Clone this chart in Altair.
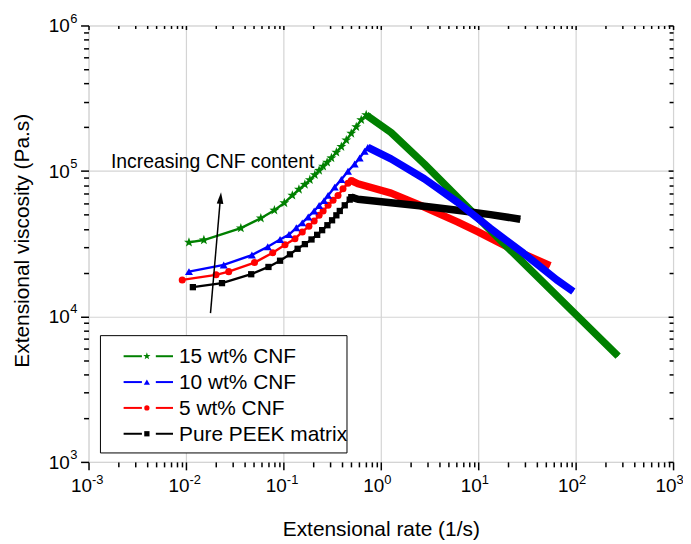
import altair as alt
import pandas as pd

FONT = "Liberation Sans"

series = ["15 wt% CNF", "10 wt% CNF", "5 wt% CNF", "Pure PEEK matrix"]
colors = ["#008000", "#0000ff", "#ff0000", "#000000"]

# ---- 15 wt% CNF ----
g15_rate = [0.01074, 0.01528, 0.0366, 0.0587, 0.0809, 0.1023, 0.1236, 0.1445, 0.1663, 0.1871, 0.2104,
            0.2328, 0.2559, 0.2812, 0.3112, 0.3499, 0.3936, 0.4426, 0.4977, 0.5598, 0.6295, 0.708]
g15_visc = [32280, 33500, 40460, 47320, 53700, 60260, 67920, 74650, 80720, 86900, 93970,
            100700, 107600, 114600, 122700, 134300, 146900, 162900, 181100, 200900, 224400, 242700]
g15_tail_rate = [0.708, 1.274, 2.793, 6.109, 19.77, 43.25, 94.84, 272.9]
g15_tail_visc = [242700, 183700, 111900, 66070, 30130, 17990, 10700, 5333]

# ---- 10 wt% CNF ----
g10_rate = [0.01074, 0.02443, 0.04753, 0.06918, 0.09247, 0.1143, 0.1358, 0.1563, 0.1799, 0.207,
            0.2328, 0.2618, 0.2877, 0.3365, 0.3936, 0.4603, 0.5395, 0.6067, 0.6823, 0.7362]
g10_visc = [20320, 22590, 26420, 30130, 33810, 36560, 40640, 43950, 48310, 53090,
            57810, 62520, 67920, 77450, 87300, 99540, 111700, 122700, 136500, 145200]
g10_tail_rate = [0.7362, 1.274, 2.793, 6.109, 13.37, 29.24, 63.97, 94.62]
g10_tail_visc = [145200, 121100, 88310, 61090, 40270, 27160, 17820, 14830]

# ---- 5 wt% CNF ----
g5_rate = [0.00916, 0.02037, 0.02748, 0.05058, 0.0778, 0.104, 0.1315, 0.1563, 0.1828, 0.207,
           0.2328, 0.2559, 0.2877, 0.3236, 0.3639, 0.4093, 0.4603, 0.4977]
g5_visc = [17820, 19320, 20320, 23440, 27420, 31120, 34200, 38110, 41690, 45290,
           49550, 53090, 58080, 62810, 67920, 75510, 82410, 85900]
g5_tail_rate = [0.4977, 0.5821, 1.274, 2.793, 6.109, 10.0, 19.77, 54.7]
g5_tail_visc = [85900, 81660, 70470, 56490, 44670, 38110, 30130, 22340]

# ---- Pure PEEK ----
g0_rate = [0.01178, 0.02344, 0.04677, 0.07031, 0.09247, 0.1169, 0.14, 0.1663, 0.1945, 0.2223,
           0.25, 0.2831, 0.3162, 0.3499, 0.3793, 0.4266, 0.4797, 0.4977]
g0_visc = [15890, 16940, 19500, 21880, 24150, 26730, 29170, 31410, 33810, 36390,
           39170, 42360, 45810, 49550, 53090, 58080, 63530, 66070]
g0_tail_rate = [0.4977, 0.5821, 1.274, 2.793, 6.109, 13.37, 27.04]
g0_tail_visc = [66070, 63830, 60530, 57150, 53700, 50120, 46560]

x_major = [1e-3, 1e-2, 1e-1, 1, 10, 100, 1000]
x_exp = ["-3", "-2", "-1", "0", "1", "2", "3"]
y_major = [1e3, 1e4, 1e5, 1e6]
y_exp = ["3", "4", "5", "6"]
x_minor = [k * 10.0 ** d for d in range(-3, 3) for k in range(2, 10)]
y_minor = [k * 10.0 ** d for d in range(3, 6) for k in range(2, 10)]

STAR = ("M0,-1L0.235,-0.324L0.951,-0.309L0.38,0.124L0.588,0.809L0,0.4L-0.588,0.809"
        "L-0.38,0.124L-0.951,-0.309L-0.235,-0.324Z")
shapes = [STAR, "triangle-up", "circle", "square"]
msize = [110, 65, 50, 40]
lsize = [60, 38, 28, 28]

rise = [(g15_rate, g15_visc), (g10_rate, g10_visc), (g5_rate, g5_visc), (g0_rate, g0_visc)]
tail = [(g15_tail_rate, g15_tail_visc), (g10_tail_rate, g10_tail_visc),
        (g5_tail_rate, g5_tail_visc), (g0_tail_rate, g0_tail_visc)]

W, H = 588, 439
xs = alt.Scale(type="log", domain=[1e-3, 1e3], nice=False)
ys = alt.Scale(type="log", domain=[1e3, 1e6], nice=False)


def X(field="rate", axis=None):
    return alt.X(f"{field}:Q", scale=xs, axis=axis)


def Y(field="visc", axis=None):
    return alt.Y(f"{field}:Q", scale=ys, axis=axis)


layers = []

# axes
corner = pd.DataFrame({"rate": [1e-3, 1e3], "visc": [1e3, 1e6]})
common = dict(labels=False, domain=False, tickColor="black", tickWidth=1.5)


def axis_layer(ax_x, ax_y):
    return alt.Chart(corner).mark_point(opacity=0).encode(x=X(axis=ax_x), y=Y(axis=ax_y))


layers.append(axis_layer(
    alt.Axis(orient="bottom", values=x_major, tickSize=8, grid=True, gridColor="#d4d4d4",
             gridWidth=1.2, title="Extensional rate (1/s)", titleFont=FONT, titleFontSize=21,
             titleFontWeight="normal", titleColor="black", titleY=74,
             titleBaseline="alphabetic", **common),
    alt.Axis(orient="left", values=y_major, tickSize=8, grid=True, gridColor="#d4d4d4",
             gridWidth=1.2, title="Extensional viscosity (Pa.s)", titleFont=FONT,
             titleFontSize=21, titleFontWeight="normal", titleColor="black", titleAngle=270,
             titleX=-60, titleY=216, titleBaseline="alphabetic", titleAlign="center", **common)))
layers.append(axis_layer(
    alt.Axis(orient="bottom", values=x_minor, tickSize=5, grid=False, title=None, **common),
    alt.Axis(orient="left", values=y_minor, tickSize=5, grid=False, title=None, **common)))
layers.append(axis_layer(
    alt.Axis(orient="top", values=x_major, tickSize=4, offset=-4, grid=False, title=None, **common),
    alt.Axis(orient="right", values=y_major, tickSize=5, offset=-5, grid=False, title=None, **common)))
layers.append(axis_layer(
    alt.Axis(orient="top", values=x_minor, tickSize=3, offset=-3, grid=False, title=None, **common),
    alt.Axis(orient="right", values=y_minor, tickSize=4, offset=-4, grid=False, title=None, **common)))

# tick labels
xl = pd.DataFrame({"v": x_major, "e": x_exp})
yl = pd.DataFrame({"v": y_major, "e": y_exp})
layers.append(alt.Chart(xl).mark_text(align="right", baseline="alphabetic", fontSize=19, font=FONT,
                                      dx=3.5, color="black")
              .encode(x=X("v"), y=alt.value(H + 30), text=alt.value("10")))
layers.append(alt.Chart(xl).mark_text(align="left", baseline="alphabetic", fontSize=13, font=FONT,
                                      dx=3.5, color="black")
              .encode(x=X("v"), y=alt.value(H + 22), text="e:N"))
layers.append(alt.Chart(yl).mark_text(align="right", baseline="alphabetic", fontSize=19, font=FONT,
                                      dy=7, color="black")
              .encode(x=alt.value(-19), y=Y("v"), text=alt.value("10")))
layers.append(alt.Chart(yl).mark_text(align="left", baseline="alphabetic", fontSize=13, font=FONT,
                                      dy=-3, color="black")
              .encode(x=alt.value(-18.5), y=Y("v"), text="e:N"))

# data series (draw order bottom -> top)
order = [2, 0, 3, 1]
for i in order:
    r, v = rise[i]
    tr, tv = tail[i]
    df_all = pd.DataFrame({"rate": r[:-1] + tr, "visc": v[:-1] + tv})
    df_rise = pd.DataFrame({"rate": r, "visc": v})
    df_tail = pd.DataFrame({"rate": tr, "visc": tv})
    layers.append(alt.Chart(df_all).mark_line(color=colors[i], strokeWidth=2.4)
                  .encode(x=X(), y=Y()))
    layers.append(alt.Chart(df_tail).mark_line(color=colors[i], strokeWidth=7.5, strokeJoin="round")
                  .encode(x=X(), y=Y()))
    layers.append(alt.Chart(df_rise).mark_point(shape=shapes[i], size=msize[i], filled=True,
                                                opacity=1, color=colors[i], strokeWidth=0)
                  .encode(x=X(), y=Y()))

# annotation
one = pd.DataFrame({"a": [0]})
layers.append(alt.Chart(one).mark_rule(color="black", strokeWidth=1.5)
              .encode(x=alt.value(122.7), y=alt.value(289.3), x2=alt.value(132.3), y2=alt.value(178)))
layers.append(alt.Chart(one).mark_point(shape="M0,-1L0.57,1L-0.57,1Z", size=137, filled=True,
                                        opacity=1, color="black", angle=5, strokeWidth=0)
              .encode(x=alt.value(132.8), y=alt.value(173.5)))
layers.append(alt.Chart(one).mark_text(text="Increasing CNF content", align="left",
                                       baseline="alphabetic", fontSize=19.5, font=FONT, color="black")
              .encode(x=alt.value(22.5), y=alt.value(143)))

# legend
layers.append(alt.Chart(one).mark_rect(fill="white", stroke="black", strokeWidth=1)
              .encode(x=alt.value(12), x2=alt.value(260), y=alt.value(312), y2=alt.value(430)))
for i, s in enumerate(series):
    yy = 332.7 + i * 26
    c = colors[i]
    layers.append(alt.Chart(one).mark_rule(color=c, strokeWidth=2)
                  .encode(x=alt.value(35.3), x2=alt.value(53.7), y=alt.value(yy)))
    layers.append(alt.Chart(one).mark_rule(color=c, strokeWidth=2)
                  .encode(x=alt.value(67.7), x2=alt.value(85), y=alt.value(yy)))
    layers.append(alt.Chart(one).mark_point(shape=shapes[i], size=lsize[i], filled=True, opacity=1,
                                            color=c, strokeWidth=0)
                  .encode(x=alt.value(58.7), y=alt.value(yy)))
    layers.append(alt.Chart(one).mark_text(text=s, align="left", baseline="middle", fontSize=21,
                                           font=FONT, color="black")
                  .encode(x=alt.value(91), y=alt.value(yy + 1)))

chart = (alt.layer(*layers)
         .resolve_axis(x="independent", y="independent")
         .properties(width=W, height=H,
                     padding={"left": 81, "top": 16, "right": 10, "bottom": 81},
                     autosize=alt.AutoSizeParams(type="none"))
         .configure_view(stroke="black", strokeWidth=1.8)
         .configure(font=FONT))

chart.save("out.html", embed_options={"renderer": "svg", "actions": False})
